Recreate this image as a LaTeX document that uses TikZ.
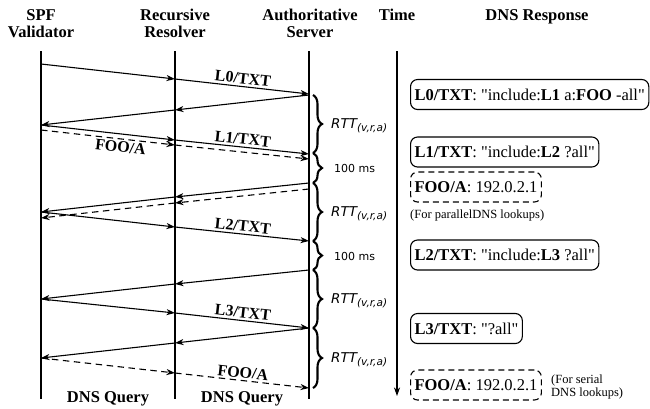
\documentclass[tikz,border=0pt]{standalone}
\usepackage{fontspec}
\setmainfont{Liberation Serif}[Ligatures=TeXOff]
\newfontfamily\dvsans{DejaVu Sans}
\usetikzlibrary{arrows.meta,decorations.pathreplacing}

\begin{document}
\begin{tikzpicture}[x=1pt,y=-1pt,
  tip/.style={-{Stealth[length=8.5pt,width=6pt,inset=2.5pt]}},
  msg/.style={tip, line width=1.1pt},
  dmsg/.style={msg, dash pattern=on 6.5pt off 4.5pt},
  life/.style={line width=1.1pt},
  head/.style={font=\fontsize{16.5}{17}\selectfont\bfseries, align=center, inner sep=0pt},
  lbl/.style={font=\fontsize{16}{17}\selectfont\bfseries, inner sep=2pt},
  resp/.style={draw, line width=1.1pt, rounded corners=7pt, minimum height=30pt,
    inner xsep=4pt, anchor=west, font=\fontsize{16.5}{18}\selectfont},
  dresp/.style={resp, dash pattern=on 6pt off 4pt},
  note/.style={font=\fontsize{12.5}{13}\selectfont, inner sep=0pt, align=left, anchor=west},
  gap/.style={decorate, decoration={brace, amplitude=9pt}, line width=2.1pt},
  rtt/.style={font=\dvsans\fontsize{13.5}{14}\selectfont\itshape, anchor=base west, inner sep=0pt},
  ms/.style={font=\dvsans\fontsize{11}{12}\selectfont, anchor=base west, inner sep=0pt},
]
\useasboundingbox (0,0) rectangle (650,408);

% column headers
\node[head, anchor=north] (hv) at (41,9) {SPF\\Validator};
\node[head, anchor=north] (hr) at (175,9) {Recursive\\Resolver};
\node[head, anchor=north] (ha) at (310,9) {Authoritative\\Server};
\node[head, anchor=north] (ht) at (397,9) {Time};
\node[head, anchor=north] (hd) at (537,9) {DNS Response};

% lifelines and time axis
\coordinate (vtop) at (41,51);  \coordinate (vbot) at (41,399);
\coordinate (rtop) at (175,51); \coordinate (rbot) at (175,399);
\coordinate (atop) at (309,51); \coordinate (abot) at (309,399);
\coordinate (ttop) at (397,51); \coordinate (tbot) at (397,396);
\draw[life] (vtop) -- (vbot);
\draw[life] (rtop) -- (rbot);
\draw[life] (atop) -- (abot);
\draw[life, tip] (ttop) -- (tbot);

% message end points
\coordinate (q0v) at (41,64);  \coordinate (q0r) at (175,79);  \coordinate (q0a) at (309,94);
\coordinate (p0a) at (309,95); \coordinate (p0r) at (175,110); \coordinate (p0v) at (41,125);
\coordinate (q1v) at (41,125); \coordinate (q1r) at (175,140); \coordinate (q1a) at (309,154);
\coordinate (f1v) at (41,130); \coordinate (f1r) at (175,145); \coordinate (f1a) at (309,159);
\coordinate (p1a) at (309,183); \coordinate (p1r) at (175,197); \coordinate (p1v) at (41,212);
\coordinate (g1a) at (309,189); \coordinate (g1r) at (175,203); \coordinate (g1v) at (41,218);
\coordinate (q2v) at (41,212); \coordinate (q2r) at (175,227); \coordinate (q2a) at (309,241);
\coordinate (p2a) at (309,270); \coordinate (p2r) at (175,284); \coordinate (p2v) at (41,299);
\coordinate (q3v) at (41,299); \coordinate (q3r) at (175,313); \coordinate (q3a) at (309,328);
\coordinate (p3a) at (309,328); \coordinate (p3r) at (175,343); \coordinate (p3v) at (41,358);
\coordinate (f2v) at (41,358); \coordinate (f2r) at (175,373); \coordinate (f2a) at (309,388);

% queries and responses
\draw[msg] (q0v) -- (q0r);
\draw[msg] (q0r) -- node[lbl, above, sloped] {L0/TXT} (q0a);
\draw[msg] (p0a) -- (p0r);
\draw[msg] (p0r) -- (p0v);
\draw[msg] (q1v) -- (q1r);
\draw[msg] (q1r) -- node[lbl, above, sloped] {L1/TXT} (q1a);
\draw[dmsg] (f1v) -- node[lbl, below, sloped, pos=0.6] {FOO/A} (f1r);
\draw[dmsg] (f1r) -- (f1a);
\draw[msg] (p1a) -- (p1r);
\draw[msg] (p1r) -- (p1v);
\draw[dmsg] (g1a) -- (g1r);
\draw[dmsg] (g1r) -- (g1v);
\draw[msg] (q2v) -- (q2r);
\draw[msg] (q2r) -- node[lbl, above, sloped] {L2/TXT} (q2a);
\draw[msg] (p2a) -- (p2r);
\draw[msg] (p2r) -- (p2v);
\draw[msg] (q3v) -- (q3r);
\draw[msg] (q3r) -- node[lbl, above, sloped] {L3/TXT} (q3a);
\draw[msg] (p3a) -- (p3r);
\draw[msg] (p3r) -- (p3v);
\draw[dmsg] (f2v) -- (f2r);
\draw[dmsg] (f2r) -- node[lbl, above, sloped] {FOO/A} (f2a);

% timing braces
\coordinate (b0) at (313,95);
\coordinate (b1) at (313,153);
\coordinate (b2) at (313,183);
\coordinate (b3) at (313,241);
\coordinate (b4) at (313,270);
\coordinate (b5) at (313,328);
\coordinate (b6) at (313,388);
\draw[gap] (b0) -- (b1);
\draw[gap] (b1) -- (b2);
\draw[gap] (b2) -- (b3);
\draw[gap] (b3) -- (b4);
\draw[gap] (b4) -- (b5);
\draw[gap] (b5) -- (b6);
\newcommand{\rttlabel}{RTT\raisebox{-3.5pt}{\fontsize{10.5}{11}\selectfont(v,r,a)}}
\node[rtt] (t0) at (331,128) {\rttlabel};
\node[ms]  (t1) at (334,172) {100 ms};
\node[rtt] (t2) at (331,216) {\rttlabel};
\node[ms]  (t3) at (334,260) {100 ms};
\node[rtt] (t4) at (331,303) {\rttlabel};
\node[rtt] (t5) at (331,362) {\rttlabel};

% DNS responses
\node[resp]  (r0) at (410,94.5) {\textbf{L0/TXT}: "include:\textbf{L1} a:\textbf{FOO} -all"};
\node[resp]  (r1) at (410,152) {\textbf{L1/TXT}: "include:\textbf{L2} ?all"};
\node[dresp] (r2) at (410,187) {\textbf{FOO/A}: 192.0.2.1};
\node[note]  (n2) at (410,215) {(For parallelDNS lookups)};
\node[resp]  (r3) at (410,255) {\textbf{L2/TXT}: "include:\textbf{L3} ?all"};
\node[resp]  (r4) at (410,328.5) {\textbf{L3/TXT}: "?all"};
\node[dresp] (r5) at (410,385) {\textbf{FOO/A}: 192.0.2.1};
\node[note]  (n5) at (551,387) {(For serial\\DNS lookups)};

% column footers
\node[head, anchor=base] (fv) at (108,402) {DNS Query};
\node[head, anchor=base] (fr) at (242,402) {DNS Query};
\end{tikzpicture}
\end{document}
